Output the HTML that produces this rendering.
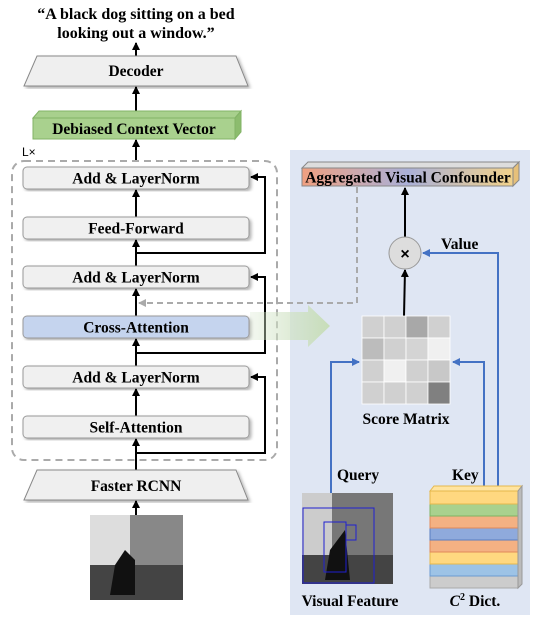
<!DOCTYPE html>
<html><head><style>
body{margin:0;width:539px;height:625px;background:#fff;overflow:hidden;font-family:"Liberation Serif",serif;font-weight:bold;}
</style></head><body>
<svg width="539" height="625" viewBox="0 0 539 625" xmlns="http://www.w3.org/2000/svg" font-family="Liberation Serif, serif" font-weight="bold">
<defs>
<marker id="a" markerWidth="8" markerHeight="8" refX="7" refY="4" orient="auto" markerUnits="userSpaceOnUse"><path d="M0,0 L8,4 L0,8 Z" fill="#000"/></marker>
<marker id="b" markerWidth="8" markerHeight="8" refX="7" refY="4" orient="auto" markerUnits="userSpaceOnUse"><path d="M0,0 L8,4 L0,8 Z" fill="#4472c4"/></marker>
<marker id="g" markerWidth="8" markerHeight="8" refX="7" refY="4" orient="auto" markerUnits="userSpaceOnUse"><path d="M0,0 L8,4 L0,8 Z" fill="#aaa"/></marker>
<linearGradient id="ag" x1="0" x2="1"><stop offset="0" stop-color="#f0a080"/><stop offset="0.5" stop-color="#aab0d8"/><stop offset="1" stop-color="#f2d28a"/></linearGradient>
<linearGradient id="ga" x1="0" x2="1"><stop offset="0" stop-color="#d6e6cc" stop-opacity="0.3"/><stop offset="1" stop-color="#c7ddb8"/></linearGradient>
<filter id="sh"><feDropShadow dx="2" dy="2" stdDeviation="1.5" flood-opacity="0.3"/></filter>
</defs>
<rect x="290" y="150" width="240" height="465" fill="#dfe6f3"/>
<text x="136" y="19" font-size="16" text-anchor="middle">“A black dog sitting on a bed</text>
<text x="136" y="38" font-size="16" text-anchor="middle">looking out a window.”</text>
<line x1="136" y1="56" x2="136" y2="43" stroke="#000" stroke-width="2" marker-end="url(#a)"/>
<polygon points="37,56 236,56 248,86 24,86" fill="#efefef" stroke="#888" filter="url(#sh)"/>
<text x="136" y="76" font-size="15.5" text-anchor="middle">Decoder</text>
<line x1="136" y1="112" x2="136" y2="87" stroke="#000" stroke-width="2" marker-end="url(#a)"/>
<polygon points="33,118 39,111 241,111 235,118" fill="#a8d08d" stroke="#82b366"/>
<polygon points="235,118 241,111 241,132 235,139" fill="#8cbc6e" stroke="#82b366"/>
<rect x="33" y="118" width="202" height="21" fill="#a9d18e" stroke="#82b366"/>
<text x="134" y="134" font-size="15.5" text-anchor="middle">Debiased Context Vector</text>
<line x1="136" y1="160" x2="136" y2="140" stroke="#000" stroke-width="2" marker-end="url(#a)"/>
<text x="22" y="156" font-size="12" font-family="Liberation Sans, sans-serif" font-weight="normal">L×</text>
<rect x="12" y="161" width="265" height="299" rx="12" fill="none" stroke="#aaa" stroke-width="2" stroke-dasharray="7,5"/>
<g stroke="#000" stroke-width="2" fill="none">
<line x1="136" y1="470" x2="136" y2="439" marker-end="url(#a)"/>
<line x1="136" y1="416" x2="136" y2="389" marker-end="url(#a)"/>
<line x1="136" y1="366" x2="136" y2="339" marker-end="url(#a)"/>
<line x1="136" y1="316" x2="136" y2="289" marker-end="url(#a)"/>
<line x1="136" y1="266" x2="136" y2="240" marker-end="url(#a)"/>
<line x1="136" y1="217" x2="136" y2="190" marker-end="url(#a)"/>
<polyline points="136,453 265,453 265,377 251,377" marker-end="url(#a)"/>
<polyline points="136,353 265,353 265,277 251,277" marker-end="url(#a)"/>
<polyline points="136,253 265,253 265,177 251,177" marker-end="url(#a)"/>
</g>
<g font-size="15.5" text-anchor="middle">
<rect x="23" y="167" width="226" height="22" rx="4" fill="#f0f0f0" stroke="#999" filter="url(#sh)"/><text x="136" y="183.5">Add &amp; LayerNorm</text>
<rect x="23" y="217" width="226" height="22" rx="4" fill="#f0f0f0" stroke="#999" filter="url(#sh)"/><text x="136" y="233.5">Feed-Forward</text>
<rect x="23" y="266" width="226" height="22" rx="4" fill="#f0f0f0" stroke="#999" filter="url(#sh)"/><text x="136" y="282.5">Add &amp; LayerNorm</text>
<rect x="23" y="316" width="226" height="22" rx="4" fill="#c5d4ee" stroke="#999" filter="url(#sh)"/><text x="136" y="332.5">Cross-Attention</text>
<rect x="23" y="366" width="226" height="22" rx="4" fill="#f0f0f0" stroke="#999" filter="url(#sh)"/><text x="136" y="382.5">Add &amp; LayerNorm</text>
<rect x="23" y="416" width="226" height="22" rx="4" fill="#f0f0f0" stroke="#999" filter="url(#sh)"/><text x="136" y="432.5">Self-Attention</text>
</g>
<polygon points="37,470 236,470 248,500 24,500" fill="#efefef" stroke="#888" filter="url(#sh)"/>
<text x="136" y="491" font-size="15.5" text-anchor="middle">Faster RCNN</text>
<line x1="136" y1="515" x2="136" y2="501" stroke="#000" stroke-width="2" marker-end="url(#a)"/>
<rect x="90" y="515" width="93" height="85" fill="#888"/>
<rect x="90" y="515" width="40" height="85" fill="#ddd"/>
<rect x="90" y="565" width="93" height="35" fill="#444"/>
<path d="M110,595 L115,565 L125,550 L135,560 L135,595 Z" fill="#111"/>
<polygon points="250,312 308,312 308,305 330,326 308,347 308,340 250,340" fill="url(#ga)"/>
<polyline points="357,187 357,303 139,303" fill="none" stroke="#aaa" stroke-width="2" stroke-dasharray="6,4" marker-end="url(#g)"/>
<polygon points="302,168 308,162 519,162 513,168" fill="#ddd" stroke="#888"/>
<polygon points="513,168 519,162 519,180 513,186" fill="#e6c07a" stroke="#888"/>
<rect x="302" y="168" width="211" height="18" fill="url(#ag)" stroke="#888"/>
<text x="408" y="182.5" font-size="15.5" text-anchor="middle">Aggregated Visual Confounder</text>
<line x1="405" y1="237" x2="405" y2="188" stroke="#000" stroke-width="2" marker-end="url(#a)"/>
<line x1="404" y1="316" x2="405" y2="270" stroke="#000" stroke-width="2" marker-end="url(#a)"/>
<circle cx="405" cy="253" r="16" fill="#ddd" stroke="#999"/>
<text x="405" y="259" font-size="16" text-anchor="middle" font-family="Liberation Sans, sans-serif">×</text>
<text x="441" y="249" font-size="15.5">Value</text>
<g stroke="#fff" stroke-width="0.8">
<rect x="362" y="316" width="22" height="22" fill="#d0d0d0"/><rect x="384" y="316" width="22" height="22" fill="#d0d0d0"/><rect x="406" y="316" width="22" height="22" fill="#a8a8a8"/><rect x="428" y="316" width="22" height="22" fill="#d0d0d0"/>
<rect x="362" y="338" width="22" height="22" fill="#bcbcbc"/><rect x="384" y="338" width="22" height="22" fill="#d0d0d0"/><rect x="406" y="338" width="22" height="22" fill="#d4d4d4"/><rect x="428" y="338" width="22" height="22" fill="#f0f0f0"/>
<rect x="362" y="360" width="22" height="22" fill="#d0d0d0"/><rect x="384" y="360" width="22" height="22" fill="#f0f0f0"/><rect x="406" y="360" width="22" height="22" fill="#d0d0d0"/><rect x="428" y="360" width="22" height="22" fill="#c8c8c8"/>
<rect x="362" y="382" width="22" height="22" fill="#d0d0d0"/><rect x="384" y="382" width="22" height="22" fill="#d0d0d0"/><rect x="406" y="382" width="22" height="22" fill="#d0d0d0"/><rect x="428" y="382" width="22" height="22" fill="#808080"/>
</g>
<text x="406" y="424" font-size="15.5" text-anchor="middle">Score Matrix</text>
<g stroke="#4472c4" stroke-width="2" fill="none">
<polyline points="331,493 331,362 359,362" marker-end="url(#b)"/>
<polyline points="484,486 484,362 453,362" marker-end="url(#b)"/>
<polyline points="498,486 498,253 423,253" marker-end="url(#b)"/>
</g>
<text x="337" y="480" font-size="15.5">Query</text>
<text x="452" y="480" font-size="15.5">Key</text>
<rect x="302" y="493" width="91" height="91" fill="#777"/>
<rect x="302" y="493" width="30" height="91" fill="#ccc"/>
<rect x="302" y="555" width="91" height="29" fill="#444"/>
<path d="M325,580 L330,550 L345,530 L350,580 Z" fill="#111"/>
<g fill="none" stroke="#2020d0"><rect x="303" y="508" width="71" height="75"/><rect x="324" y="522" width="22" height="50"/><rect x="346" y="525" width="10" height="15"/></g>
<text x="350" y="606" font-size="15.5" text-anchor="middle">Visual Feature</text>
<g stroke-width="1">
<rect x="430" y="576" width="88" height="12" fill="#ccc" stroke="#aaa"/>
<rect x="430" y="564" width="88" height="12" fill="#9dc3e6" stroke="#6b9bd1"/>
<rect x="430" y="552" width="88" height="12" fill="#ffd880" stroke="#e6b84c"/>
<rect x="430" y="540" width="88" height="12" fill="#f4b183" stroke="#e0895a"/>
<rect x="430" y="528" width="88" height="12" fill="#8faadc" stroke="#5a7dc2"/>
<rect x="430" y="516" width="88" height="12" fill="#f4b183" stroke="#e0895a"/>
<rect x="430" y="504" width="88" height="12" fill="#a9d18e" stroke="#7fb362"/>
<rect x="430" y="491" width="88" height="13" fill="#ffd880" stroke="#e6b84c"/>
<polygon points="430,491 434,486 522,486 518,491" fill="#ffe4a0" stroke="#e6b84c"/>
<polygon points="518,491 522,486 522,584 518,588" fill="#bbb" stroke="#999"/>
</g>
<text x="475" y="606" font-size="15.5" text-anchor="middle"><tspan font-style="italic">C</tspan><tspan font-size="10" dy="-6">2</tspan><tspan dy="6"> Dict.</tspan></text>
</svg>
</body></html>
